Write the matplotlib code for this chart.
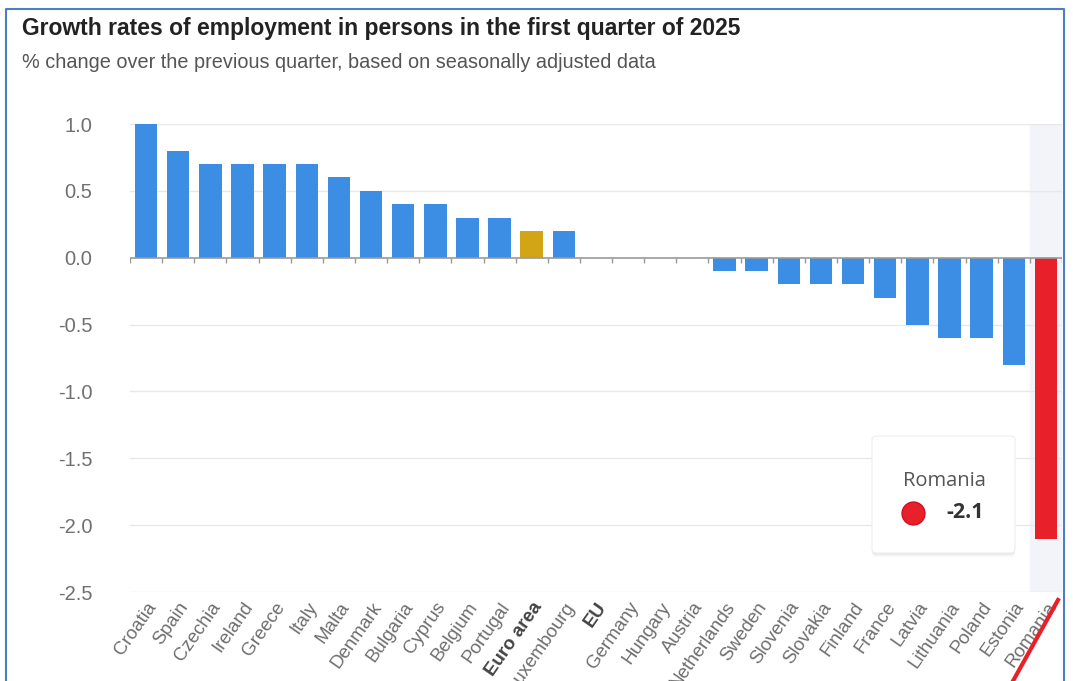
import numpy as np
import matplotlib
matplotlib.use('Agg')
import matplotlib.pyplot as plt
from matplotlib.patches import FancyBboxPatch
from matplotlib.lines import Line2D

countries = ['Croatia', 'Spain', 'Czechia', 'Ireland', 'Greece', 'Italy', 'Malta',
             'Denmark', 'Bulgaria', 'Cyprus', 'Belgium', 'Portugal', 'Euro area',
             'Luxembourg', 'EU', 'Germany', 'Hungary', 'Austria', 'Netherlands',
             'Sweden', 'Slovenia', 'Slovakia', 'Finland', 'France', 'Latvia',
             'Lithuania', 'Poland', 'Estonia', 'Romania']
growth = [1.0, 0.8, 0.7, 0.7, 0.7, 0.7, 0.6, 0.5, 0.4, 0.4, 0.3, 0.3, 0.2,
          0.2, 0.0, 0.0, 0.0, 0.0, -0.1, -0.1, -0.2, -0.2, -0.2, -0.3, -0.5,
          -0.6, -0.6, -0.8, -2.1]
yticks = [1.0, 0.5, 0.0, -0.5, -1.0, -1.5, -2.0, -2.5]
aggregates = ['Euro area', 'EU']
highlight = 'Romania'

BLUE = '#3b8ee4'
GOLD = '#d1a516'
RED = '#e8202a'
FONT = ['Liberation Sans', 'DejaVu Sans']

plt.rcParams['font.family'] = FONT

W, H = 1073, 681
fig = plt.figure(figsize=(W/100, H/100), dpi=100)
ax = fig.add_axes([130/W, 1 - 592/H, 932/W, 468/H])

x = np.arange(len(countries))
colors = []
for c in countries:
    if c == highlight:
        colors.append(RED)
    elif c == 'Euro area':
        colors.append(GOLD)
    else:
        colors.append(BLUE)

hi = countries.index(highlight)
ax.axvspan(hi - 0.5, hi + 0.5, color='#f3f4f9', zorder=0)
ax.bar(x, growth, width=0.7, color=colors, zorder=3)

ax.set_xlim(-0.5, len(countries) - 0.5)
ax.set_ylim(-2.5, 1.0)
ax.set_yticks(yticks)
ax.set_yticklabels([f'{v:.1f}' for v in yticks], fontsize=14.5, color='#707070')
for v in yticks:
    if v != 0:
        ax.axhline(v, color='#e8e8e8', lw=1, zorder=1)
ax.axhline(0, color='#999999', lw=1.2, zorder=4)
# small tick marks at the category boundaries on the zero line
ax.vlines(np.arange(len(countries) + 1) - 0.5, -0.04, 0, color='#999999', lw=1, zorder=4)

ax.set_xticks(x)
ax.set_xticklabels(countries, rotation=55, ha='right', rotation_mode='anchor',
                   fontsize=13.5, color='#6e6e6e')
for lbl in ax.get_xticklabels():
    if lbl.get_text() in aggregates:
        lbl.set_fontweight('bold')
        lbl.set_color('#444444')
ax.tick_params(axis='x', length=0, pad=5)
ax.tick_params(axis='y', length=0, pad=27)
for s in ax.spines.values():
    s.set_visible(False)

# red underline of the hovered label
fig.add_artist(Line2D([1058/W, 1013/W], [1 - 600/H, 1 - 681/H], color=RED, lw=3))

# frame
fig.add_artist(Line2D([6/W, 6/W, 1064/W, 1064/W], [0, 1 - 9/H, 1 - 9/H, 0],
                      color='#4a7fc4', lw=1.5))

fig.text(22/W, 1 - 29/H, 'Growth rates of employment in persons in the first quarter of 2025',
         fontsize=16.5, fontweight='bold', color='#222222', va='center')
fig.text(22/W, 1 - 63/H, '% change over the previous quarter, based on seasonally adjusted data',
         fontsize=14.3, color='#555555', va='center')

# tooltip
for k in range(4, 0, -1):
    fig.add_artist(FancyBboxPatch((872/W, 1 - 553/H - k/H), 143/W, 117/H,
                                  boxstyle='round,pad=0,rounding_size=0.005',
                                  fc='black', ec='none', alpha=0.025, zorder=9))
fig.add_artist(FancyBboxPatch((872/W, 1 - 553/H), 143/W, 117/H,
                              boxstyle='round,pad=0,rounding_size=0.005',
                              fc='white', ec='#eeeeee', lw=0.8, zorder=10))
fig.text(944/W, 1 - 481/H, highlight, fontsize=14.5, color='#555555',
         ha='center', va='center', family=['Open Sans', 'DejaVu Sans'], zorder=11)
fig.add_artist(Line2D([913/W], [1 - 513/H], marker='o', ms=16.5, color=RED,
                      markeredgecolor='#d01020', zorder=11))
fig.text(946/W, 1 - 512/H, f'{growth[hi]:.1f}', fontsize=15.5, color='#333333',
         fontweight='bold', va='center', family=['Open Sans', 'DejaVu Sans'], zorder=11)

fig.savefig('out.png', dpi=100)
